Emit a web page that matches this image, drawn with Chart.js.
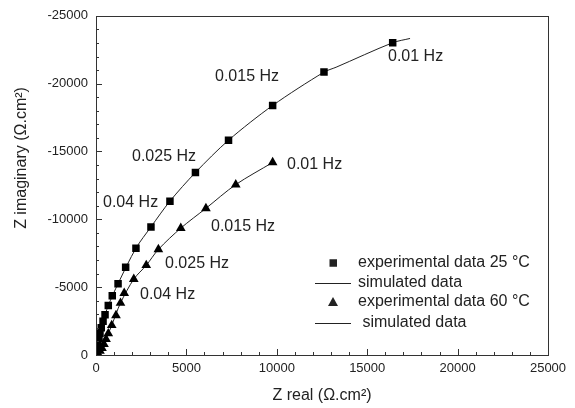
<!DOCTYPE html>
<html>
<head>
<meta charset="utf-8">
<script src="https://cdn.jsdelivr.net/npm/chart.js@4"></script>
<style>
  html, body { margin: 0; padding: 0; background: #fff; }
  #wrap { width: 575px; height: 408px; }
</style>
</head>
<body>
<div id="wrap"><canvas id="nyquist" width="575" height="408"></canvas></div>
<script>
// Nyquist data (Z real, Z imaginary in ohm.cm2)
const exp25X = [16410, 12610, 9770, 7330, 5500, 4090, 3040, 2210, 1640, 1220, 900, 680, 500, 390, 290, 220, 165, 110, 72, 44];
const exp25Y = [-23015, -20850, -18390, -15830, -13450, -11340, -9440, -7870, -6470, -5260, -4370, -3645, -2970, -2480, -2005, -1600, -1240, -875, -510, -220];

const sim25X = [0, 44, 110, 220, 390, 680, 1220, 2210, 3040, 4090, 5500, 7330, 9770, 12610, 13280, 16410, 17370];
const sim25Y = [0, -220, -875, -1600, -2480, -3645, -5260, -7870, -9440, -11340, -13450, -15830, -18390, -20850, -21210, -23015, -23330];

const exp60X = [9770, 7730, 6080, 4690, 3450, 2780, 2090, 1560, 1355, 1105, 870, 680, 555, 440, 330, 220, 110];
const exp60Y = [-14190, -12560, -10810, -9350, -7780, -6610, -5590, -4560, -3830, -2915, -2190, -1580, -1165, -800, -510, -290, -110];

const sim60X = [0, 110, 330, 555, 870, 1355, 2090, 2780, 3450, 4690, 6080, 7730, 9770];
const sim60Y = [0, -110, -510, -1165, -2190, -3830, -5590, -6610, -7780, -9350, -10810, -12560, -14190];

const xTicks = [0, 5000, 10000, 15000, 20000, 25000];
const yTicks = [0, -5000, -10000, -15000, -20000, -25000];
const minorStep = 1000;

const freqLabels25 = ['0.01 Hz', '0.015 Hz', '0.025 Hz', '0.04 Hz'];
const freqLabels60 = ['0.01 Hz', '0.015 Hz', '0.025 Hz', '0.04 Hz'];
const legendLabels = ['experimental data 25 °C', 'simulated data', 'experimental data 60 °C', ' simulated data'];
const yTitle = 'Z imaginary (Ω.cm²)';

const INK = '#222';
const FONT = "'Liberation Sans', Arial, sans-serif";
Chart.defaults.font.family = FONT;
Chart.defaults.color = INK;

const pts = (xs, ys) => xs.map((x, i) => ({ x, y: ys[i] }));

/* =========================
   FRAME + INWARD TICKS
========================= */
const framePlugin = {
  id: 'frame',
  afterDraw(chart) {
    const { ctx, chartArea: a, scales: { x, y } } = chart;
    ctx.save();
    ctx.strokeStyle = '#333';
    ctx.lineWidth = 1;
    ctx.strokeRect(Math.round(a.left) + 0.5, Math.round(a.top) + 0.5,
      Math.round(a.right - a.left), Math.round(a.bottom - a.top));

    ctx.beginPath();
    for (let v = 0; v <= 25000; v += minorStep) {
      const px = Math.round(x.getPixelForValue(v)) + 0.5;
      const len = v % 5000 === 0 ? 6 : 3;
      ctx.moveTo(px, a.bottom);
      ctx.lineTo(px, a.bottom - len);
    }
    for (let v = 0; v >= -25000; v -= minorStep) {
      const py = Math.round(y.getPixelForValue(v)) + 0.5;
      const len = v % 5000 === 0 ? 6 : 3;
      ctx.moveTo(a.left, py);
      ctx.lineTo(a.left + len, py);
    }
    ctx.stroke();

    // y title sits a bit above the middle of the axis in the original
    ctx.fillStyle = INK;
    ctx.font = '16px ' + FONT;
    ctx.textAlign = 'center';
    ctx.textBaseline = 'middle';
    ctx.translate(22, 158);
    ctx.rotate(-Math.PI / 2);
    ctx.fillText(yTitle, 0, 0);
    ctx.restore();
  }
};

/* =========================
   FREQUENCY LABELS + LEGEND
========================= */
const notesPlugin = {
  id: 'notes',
  afterDraw(chart) {
    const { ctx } = chart;
    ctx.save();
    ctx.fillStyle = INK;
    ctx.font = '16px ' + FONT;
    ctx.textBaseline = 'middle';
    ctx.textAlign = 'left';

    // label spots (left x, middle y)
    const spots25 = [[388, 57], [215, 77], [132, 157], [103, 203]];
    const spots60 = [[287, 165], [211, 227], [165, 264], [140, 295]];
    freqLabels25.forEach((t, i) => ctx.fillText(t, spots25[i][0], spots25[i][1]));
    freqLabels60.forEach((t, i) => ctx.fillText(t, spots60[i][0], spots60[i][1]));

    // legend
    const rows = [263, 283, 302, 323];
    const textX = [358, 358, 358, 358];
    ctx.fillRect(329.5, rows[0] - 3.75, 7.5, 7.5);
    ctx.beginPath();
    ctx.moveTo(333, rows[2] - 5);
    ctx.lineTo(338, rows[2] + 4);
    ctx.lineTo(328, rows[2] + 4);
    ctx.closePath();
    ctx.fill();
    ctx.strokeStyle = INK;
    ctx.lineWidth = 1;
    ctx.beginPath();
    ctx.moveTo(315, rows[1] + 0.5); ctx.lineTo(351, rows[1] + 0.5);
    ctx.moveTo(315, rows[3] + 0.5); ctx.lineTo(351, rows[3] + 0.5);
    ctx.stroke();
    legendLabels.forEach((t, i) => ctx.fillText(t, textX[i], rows[i]));
    ctx.restore();
  }
};

new Chart(document.getElementById('nyquist'), {
  type: 'scatter',
  data: {
    datasets: [
      {
        label: legendLabels[0],
        data: pts(exp25X, exp25Y),
        pointStyle: 'rect',
        pointRadius: 5.3,
        backgroundColor: '#000',
        borderColor: '#000',
        borderWidth: 0,
        order: 1
      },
      {
        label: legendLabels[1],
        data: pts(sim25X, sim25Y),
        showLine: true,
        pointRadius: 0,
        borderColor: INK,
        borderWidth: 1,
        tension: 0.3,
        order: 2
      },
      {
        label: legendLabels[2],
        data: pts(exp60X, exp60Y),
        pointStyle: 'triangle',
        pointRadius: 5.6,
        backgroundColor: '#000',
        borderColor: '#000',
        borderWidth: 0,
        order: 1
      },
      {
        label: legendLabels[3],
        data: pts(sim60X, sim60Y),
        showLine: true,
        pointRadius: 0,
        borderColor: INK,
        borderWidth: 1,
        tension: 0.3,
        order: 2
      }
    ]
  },
  options: {
    responsive: false,
    animation: false,
    layout: { padding: { left: 0, right: 27, top: 12, bottom: 0 } },
    plugins: { legend: { display: false }, tooltip: { enabled: false } },
    scales: {
      x: {
        type: 'linear',
        min: 0,
        max: 25000,
        afterBuildTicks: (s) => { s.ticks = xTicks.map(v => ({ value: v })); },
        afterFit: (s) => { s.height = 53; },
        ticks: { padding: 6, font: { size: 13 }, color: INK, callback: (v) => String(v) },
        grid: { display: false, drawTicks: false },
        border: { display: false },
        title: { display: true, text: 'Z real (Ω.cm²)', font: { size: 16 }, color: INK, padding: { bottom: 3 } }
      },
      y: {
        type: 'linear',
        min: -25000,
        max: 0,
        reverse: true,
        afterBuildTicks: (s) => { s.ticks = yTicks.map(v => ({ value: v })); },
        afterFit: (s) => { s.width = 96; },
        ticks: { padding: 8, font: { size: 13 }, color: INK, callback: (v) => String(v) },
        grid: { display: false, drawTicks: false },
        border: { display: false },
        title: { display: false }
      }
    }
  },
  plugins: [framePlugin, notesPlugin]
});
</script>
</body>
</html>
